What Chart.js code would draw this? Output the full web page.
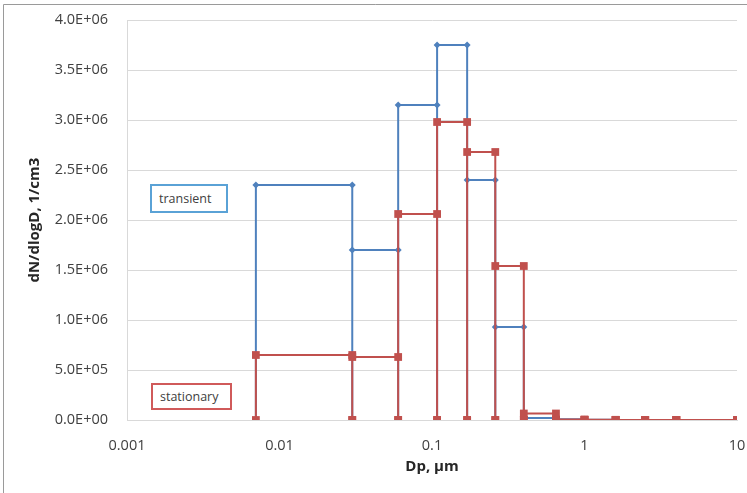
<!DOCTYPE html>
<html>
<head>
<meta charset="utf-8">
<script src="https://cdn.jsdelivr.net/npm/chart.js@4.4.1/dist/chart.umd.min.js"></script>
<style>
  html, body { margin: 0; padding: 0; background: #fff; }
  #wrap { position: relative; width: 747px; height: 493px; }
  .note {
    position: absolute;
    font-family: 'Open Sans', sans-serif;
    font-size: 12.5px;
    color: #404040;
    background: #fff;
    box-sizing: border-box;
    padding-left: 7px;
    display: flex;
    align-items: center;
  }
</style>
</head>
<body>
<div id="wrap">
  <canvas id="chart" width="747" height="493"></canvas>
  <div class="note" style="left:150px; top:184px; width:78px; height:29px; border:2px solid #5aa2d6;">transient</div>
  <div class="note" style="left:151px; top:383px; width:81px; height:27px; border:2px solid #d05a5a;">stationary</div>
</div>
<script>
// bin edges (Dp, um) and dN/dlogD per bin
const edges = [0.007, 0.03, 0.06, 0.108, 0.17, 0.26, 0.4, 0.65, 1.0, 1.6, 2.5, 4.0, 10];
const transient = [2.35e6, 1.70e6, 3.15e6, 3.75e6, 2.40e6, 9.3e5, 2.0e4, 8e3, 2e3, 1e3, 5e2, 2e2];
const stationary = [6.5e5, 6.3e5, 2.06e6, 2.98e6, 2.68e6, 1.54e6, 6.5e4, 5e3, 2e3, 1e3, 5e2, 2e2];
const xTicks = [0.001, 0.01, 0.1, 1, 10];

// each bin drawn as an open box: up, across, down
function boxes(vals) {
    const pts = [];
    vals.forEach((v, i) => {
        pts.push({x: edges[i], y: 0});
        pts.push({x: edges[i], y: v});
        pts.push({x: edges[i + 1], y: v});
        pts.push({x: edges[i + 1], y: 0});
    });
    return pts;
}

function sci(v) {
    if (v === 0) return '0.0E+00';
    const e = Math.floor(Math.log10(v) + 1e-9);
    const m = v / Math.pow(10, e);
    return m.toFixed(1) + 'E' + (e < 0 ? '-' : '+') + String(Math.abs(e)).padStart(2, '0');
}

const frame = {
    id: 'frame',
    afterDraw(chart) {
        const ctx = chart.ctx;
        ctx.save();
        ctx.strokeStyle = '#9a9a9a';
        ctx.lineWidth = 1;
        ctx.beginPath();
        ctx.moveTo(3.5, 493);
        ctx.lineTo(3.5, 4.5);
        ctx.lineTo(747, 4.5);
        ctx.stroke();
        ctx.restore();
    }
};

Chart.defaults.font.family = "'Open Sans', sans-serif";
Chart.defaults.color = '#404040';

new Chart(document.getElementById('chart'), {
    type: 'line',
    data: {
        datasets: [{
            label: 'transient',
            data: boxes(transient),
            borderColor: '#4f81bd',
            backgroundColor: '#4f81bd',
            borderWidth: 2,
            pointStyle: 'rectRot',
            pointRadius: 3.5,
            pointBorderWidth: 0,
            order: 1
        }, {
            label: 'stationary',
            data: boxes(stationary),
            borderColor: '#c0504d',
            backgroundColor: '#c0504d',
            borderWidth: 2,
            pointStyle: 'rect',
            pointRadius: 5.5,
            pointBorderWidth: 0,
            order: 0
        }]
    },
    options: {
        responsive: false,
        animation: false,
        devicePixelRatio: 1,
        layout: { padding: { left: 0, right: 10, top: 20, bottom: 0 } },
        plugins: { legend: { display: false }, tooltip: { enabled: false } },
        scales: {
            x: {
                type: 'logarithmic',
                min: 0.001,
                max: 10,
                afterBuildTicks: (scale) => { scale.ticks = xTicks.map(v => ({value: v})); },
                afterFit: (scale) => { scale.height = 73; scale.paddingLeft = 0; scale.paddingRight = 0; },
                ticks: {
                    autoSkip: false,
                    maxRotation: 0,
                    padding: 17,
                    font: { size: 14.5 },
                    callback: (v) => String(v)
                },
                grid: { color: 'transparent', drawTicks: false },
                border: { display: true, color: '#d9d9d9', width: 1 },
                title: {
                    display: true,
                    text: 'Dp, \u00b5m',
                    color: '#262626',
                    font: { size: 15, weight: 'bold' },
                    padding: { top: 0, bottom: 17 }
                }
            },
            y: {
                min: 0,
                max: 4e6,
                afterFit: (scale) => { scale.width = 127; scale.paddingTop = 0; scale.paddingBottom = 0; },
                ticks: {
                    stepSize: 5e5,
                    padding: 19,
                    font: { size: 14.5 },
                    callback: (v) => sci(v)
                },
                grid: { color: '#d9d9d9', drawTicks: false },
                border: { display: true, color: '#d9d9d9', width: 1 },
                title: {
                    display: true,
                    text: 'dN/dlogD, 1/cm3',
                    color: '#262626',
                    font: { size: 15, weight: 'bold' },
                    padding: { top: 26, bottom: 0 }
                }
            }
        }
    },
    plugins: [frame]
});
</script>
</body>
</html>
